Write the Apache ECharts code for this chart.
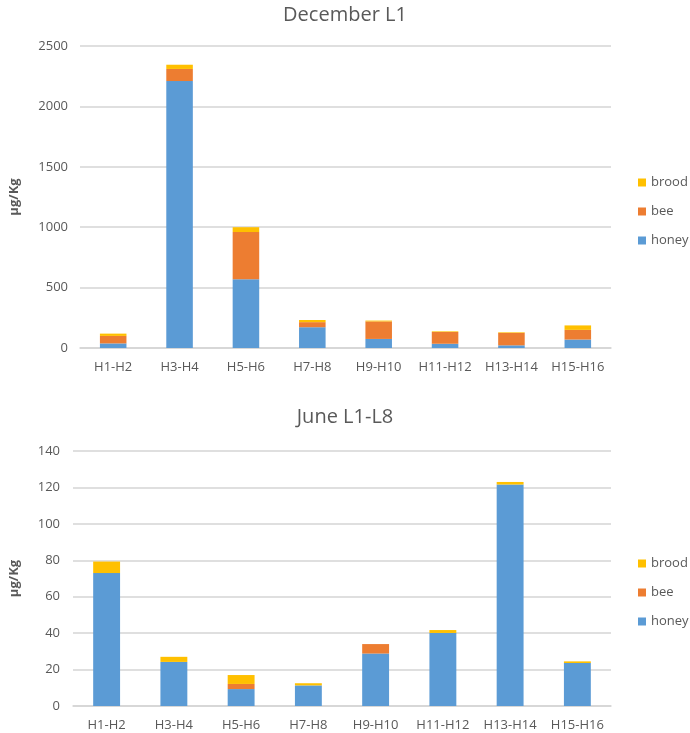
<!DOCTYPE html>
<html><head><meta charset="utf-8">
<script src="https://cdn.jsdelivr.net/npm/echarts@6/dist/echarts.min.js"></script>
<style>html,body{margin:0;padding:0;background:#fff}#c{width:690px;height:733px}</style>
</head><body><div id="c"></div>
<script>
const categories = ['H1-H2','H3-H4','H5-H6','H7-H8','H9-H10','H11-H12','H13-H14','H15-H16'];
const decHoney = [38, 2210, 570, 172, 75, 35, 22, 70];
const decBee   = [62, 100, 390, 42, 145, 98, 103, 80];
const decBrood = [19, 35, 40, 18, 7, 5, 5, 37];
const junHoney = [73, 24.2, 9.3, 11.3, 28.8, 40.1, 121.6, 23.6];
const junBee   = [0, 0, 2.8, 0, 5.2, 0, 0, 0];
const junBrood = [6.3, 2.8, 4.9, 1.2, 0, 1.6, 1.4, 0.9];
const decTicks = [0, 500, 1000, 1500, 2000, 2500];
const junTicks = [0, 20, 40, 60, 80, 100, 120, 140];

const FONT = 'Open Sans';
const TXT = '#595959';
const GRIDC = '#D5D5D5';
const colors = {honey:'#5B9BD5', bee:'#ED7D31', brood:'#FFC000'};

function xAxis(gi){
  return {type:'category', gridIndex:gi, data:categories,
    axisLine:{lineStyle:{color:GRIDC, width:1.5}}, axisTick:{show:false},
    axisLabel:{color:TXT, fontFamily:FONT, fontSize:13, margin:13, interval:0, hideOverlap:false}};
}
function yAxis(gi, ticks, gap, margin){
  return {type:'value', gridIndex:gi, min:ticks[0], max:ticks[ticks.length-1], interval:ticks[1]-ticks[0],
    name:'µg/Kg', nameLocation:'middle', nameGap:gap, nameRotate:90,
    nameTextStyle:{color:TXT, fontFamily:FONT, fontSize:13, fontWeight:'bold'},
    axisLine:{show:false}, axisTick:{show:false},
    axisLabel:{color:TXT, fontFamily:FONT, fontSize:13, margin:margin, formatter:function(v){return String(v);}},
    splitLine:{lineStyle:{color:GRIDC, width:1.5}}};
}
function bar(name, data, gi, stack){
  return {type:'bar', name:name, data:data, stack:stack, xAxisIndex:gi, yAxisIndex:gi,
    barWidth:'40%', itemStyle:{color:colors[name]}};
}
const legendBase = {orient:'vertical', data:['brood','bee','honey'], itemWidth:8, itemHeight:8,
  itemGap:16, icon:'rect', textStyle:{color:TXT, fontFamily:FONT, fontSize:13}, selectedMode:false};

const chart = echarts.init(document.getElementById('c'), null, {renderer:'canvas'});
chart.setOption({
  animation:false,
  title:[
    {text:'December L1', left:'center', top:0, textStyle:{color:TXT, fontFamily:FONT, fontSize:20, fontWeight:'normal'}},
    {text:'June L1-L8', left:'center', top:402, textStyle:{color:TXT, fontFamily:FONT, fontSize:20, fontWeight:'normal'}}
  ],
  legend:[
    Object.assign({left:633, top:171}, legendBase),
    Object.assign({left:633, top:552}, legendBase)
  ],
  grid:[
    {left:70, right:79, top:46, height:302},
    {left:63, right:79, top:451, height:255}
  ],
  xAxis:[xAxis(0), xAxis(1)],
  yAxis:[yAxis(0, decTicks, 59, 12), yAxis(1, junTicks, 52, 13)],
  series:[
    bar('honey', decHoney, 0, 'd'), bar('bee', decBee, 0, 'd'), bar('brood', decBrood, 0, 'd'),
    bar('honey', junHoney, 1, 'j'), bar('bee', junBee, 1, 'j'), bar('brood', junBrood, 1, 'j')
  ]
});
</script></body></html>
